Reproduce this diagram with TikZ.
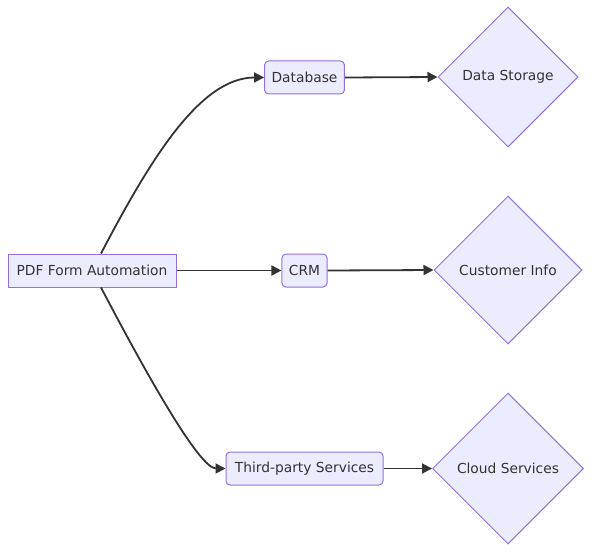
\documentclass[tikz,border=0pt]{standalone}
\usepackage{fontspec}
\setmainfont{DejaVu Sans}
\usetikzlibrary{shapes.geometric,arrows.meta}
\definecolor{nodefill}{HTML}{ECECFF}
\definecolor{nodestroke}{HTML}{9370DB}
\definecolor{txt}{HTML}{333333}
\tikzset{
  box/.style={draw=nodestroke,fill=nodefill,line width=1pt,text=txt,font=\fontsize{13.8}{16}\selectfont,minimum height=33pt,inner xsep=7pt,inner ysep=0pt},
  rbox/.style={box,rounded corners=4pt},
  dia/.style={diamond,draw=nodestroke,fill=nodefill,line width=1pt,text=txt,font=\fontsize{13.8}{16}\selectfont,inner sep=0pt,aspect=1},
  conn/.style={draw=txt,line width=1.8pt,-{Triangle[length=10pt,width=10pt]}}
}
\begin{document}
\begin{tikzpicture}[x=1pt,y=-1pt]
\useasboundingbox (0,0) rectangle (599,559);
\node[box,minimum width=168pt] (pdf) at (92,270.5) {PDF Form Automation};
\node[rbox,minimum width=79pt] (db) at (304.5,77.5) {Database};
\node[rbox,minimum width=45pt] (crm) at (304.5,270.5) {CRM};
\node[rbox,minimum width=157pt] (tp) at (304.5,468.5) {Third-party Services};
\node[dia,minimum width=140pt,minimum height=140pt] (ds) at (508,77) {Data Storage};
\node[dia,minimum width=148pt,minimum height=148pt] (ci) at (508,270) {Customer Info};
\node[dia,minimum width=151pt,minimum height=151pt] (cs) at (508,468.5) {Cloud Services};
\coordinate (pdft) at ([xshift=9pt]pdf.north);
\coordinate (pdfb) at ([xshift=9pt]pdf.south);
\draw[conn] (pdft) .. controls (150,160) and (200,77.5) .. (db.west);
\draw[conn] (pdfb) .. controls (150,381) and (200,468.5) .. (tp.west);
\draw[conn] (pdf.east) -- (crm.west);
\draw[conn] (db.east) -- (ds.west);
\draw[conn] (crm.east) -- (ci.west);
\draw[conn] (tp.east) -- (cs.west);
\end{tikzpicture}
\end{document}
